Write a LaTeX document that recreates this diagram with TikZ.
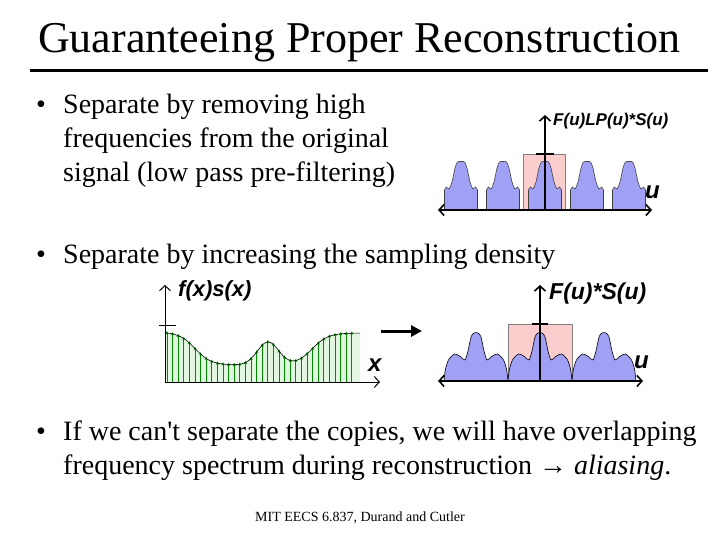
\documentclass[tikz,border=0pt]{standalone}
\usepackage{fontspec}
\setmainfont{Liberation Serif}[Ligatures=TeXOff]
\newfontfamily\plotfont{Liberation Sans}
\usetikzlibrary{arrows.meta}

\definecolor{copyblue}{RGB}{160,160,245}
\definecolor{boxpink}{RGB}{252,205,205}
\definecolor{samplegreen}{RGB}{0,140,0}
\definecolor{areagreen}{RGB}{226,246,226}

\tikzset{
  slidetext/.style={anchor=base west, inner sep=0pt, font=\fontsize{28}{34}\selectfont},
  plotlabel/.style={inner sep=0pt, anchor=west, font=\plotfont\bfseries\itshape\fontsize{#1}{#1}\selectfont},
  axis/.style={line width=1.6pt, black},
  copyshape/.style={fill=copyblue, draw=black!75, line width=0.6pt},
  passbox/.style={fill=boxpink, draw=gray, line width=0.6pt},
}

\begin{document}
\begin{tikzpicture}[x=1pt,y=-1pt, >={Straight Barb[length=5pt,width=11pt]},
  declare function={sig(\x)=17+33/(1+exp(min((\x-195)/8,9)))
    +23*exp(-min(((\x-268)/15)^2,9))+32/(1+exp(min((312-\x)/8,9)));}]

\useasboundingbox (0,0) rectangle (720,540);

% title
\node[anchor=base west, inner sep=0pt, font=\fontsize{44}{44}\selectfont] (title) at (38,53) {Guaranteeing Proper Reconstruction};
\draw[line width=3pt] (30,71) -- (708,71);

% bullets
\node[slidetext] (dot1) at (36,114) {•};
\node[slidetext] (b1a) at (63,114) {Separate by removing high};
\node[slidetext] (b1b) at (63,148) {frequencies from the original};
\node[slidetext] (b1c) at (63,182) {signal (low pass pre-filtering)};

\node[slidetext] (dot2) at (36,263) {•};
\node[slidetext] (b2a) at (63,263) {Separate by increasing the sampling density};

\node[slidetext] (dot3) at (36,440) {•};
\node[slidetext] (b3a) at (63,440) {If we can't separate the copies, we will have overlapping};
\node[slidetext] (b3b) at (63,474) {frequency spectrum during reconstruction → \textit{aliasing}.};

\node[anchor=base, inner sep=0pt, font=\fontsize{14}{14}\selectfont] (credit) at (360,521) {MIT EECS 6.837, Durand and Cutler};

% low pass filtered spectrum
\fill[passbox] (523,154) rectangle (565,210);
\foreach \c in {461,503,545,587,629}
    \filldraw[copyshape, shift={(\c,210)}, yscale=-1] (-16.5,0) -- plot[smooth] coordinates {(-16.5,20) (-14.5,23) (-12,21) (-9,28) (-6,42) (-3.5,48) (0,48.5) (3.5,48) (6,42) (9,28) (12,21) (14.5,23) (16.5,20)} -- (16.5,0) -- cycle;

\coordinate (lpO) at (545,210);
\draw[axis, <->] (438,210) -- (652,210);
\draw[axis, ->] (lpO) -- (545,115);
\draw[axis] (536,154) -- (554,154);
\node[plotlabel=17] (lplabel) at (553,121) {F(u)LP(u)*S(u)};
\node[plotlabel=24] (lpu) at (645,192) {u};

% sampled signal
\fill[areagreen] (165,382) -- plot[domain=165:360, samples=80] (\x,{382-sig(\x)}) -- (360,382) -- cycle;
\foreach \s in {167,172.6,...,356} {
    \draw[samplegreen, line width=0.8pt] (\s,382) -- (\s,{382-sig(\s)});
    \fill[samplegreen] (\s,{382-sig(\s)}) ++(-1.6,1.2) -- ++(3.2,0) -- ++(-1.6,-3) -- cycle;
}
\draw[line width=0.6pt] plot[domain=165:360, samples=80] (\x,{382-sig(\x)});

\coordinate (sigO) at (165,382);
\draw[line width=1pt, ->] (sigO) -- (165,285);
\draw[line width=1pt, ->] (sigO) -- (380,382);
\draw[line width=1pt] (159,325) -- (176,325);
\node[plotlabel=22] (siglabel) at (178,291) {f(x)s(x)};
\node[plotlabel=24] (sigx) at (368,365) {x};

% arrow between
\coordinate (arrowstart) at (381,331);
\coordinate (arrowend) at (422,331);
\draw[line width=3pt, -{Triangle[length=11pt,width=11pt]}] (arrowstart) -- (arrowend);

% spectrum with denser sampling
\fill[passbox] (508,324) rectangle (572,381);
\foreach \c in {476,540,604}
    \filldraw[copyshape, draw=black, shift={(\c,381)}, yscale=-1] plot[smooth] coordinates {(-32,0) (-30.5,12) (-27,22) (-21,27) (-15,24) (-11,21) (-8,30) (-5,44) (-2,48) (2,48) (5,44) (8,30) (11,21) (15,24) (21,27) (27,22) (30.5,12) (32,0)} -- cycle;

\coordinate (dsO) at (540,381);
\draw[axis, <->] (438,381) -- (643,381);
\draw[axis, ->] (dsO) -- (540,285);
\draw[axis] (532,324) -- (548,324);
\node[plotlabel=23] (dslabel) at (549,294) {F(u)*S(u)};
\node[plotlabel=24] (dsu) at (634,362) {u};

\end{tikzpicture}
\end{document}
